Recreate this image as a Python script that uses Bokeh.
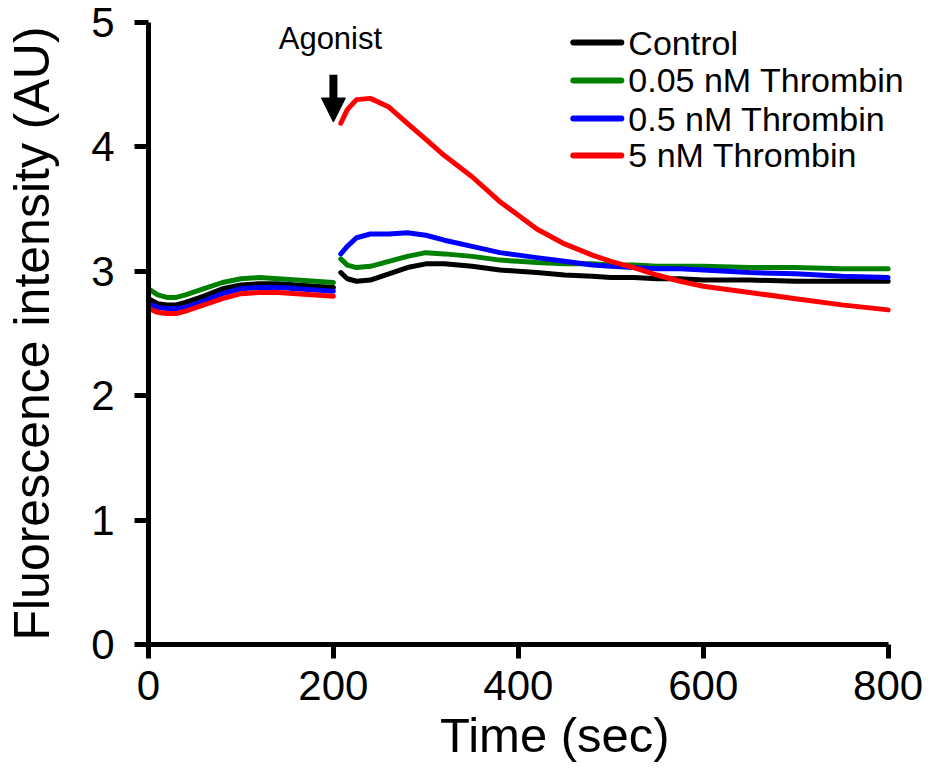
import math
from bokeh.plotting import figure
from bokeh.models import Arrow, NormalHead, Label, FixedTicker
from bokeh.embed import file_html
from bokeh.resources import INLINE

# ---- data ----
time_pre = [0, 10, 20, 30, 40, 60, 80, 100, 120, 140, 160, 180, 200]
time_post = [208, 215, 225, 240, 260, 280, 300, 320, 350, 380, 400, 420, 450,
             480, 500, 525, 550, 575, 600, 650, 700, 750, 800]

control_pre = [2.78, 2.74, 2.73, 2.73, 2.75, 2.80, 2.86, 2.89, 2.90, 2.90, 2.89, 2.88, 2.87]
control_post = [2.99, 2.94, 2.92, 2.93, 2.98, 3.03, 3.06, 3.06, 3.04, 3.01, 3.00, 2.99, 2.97,
                2.96, 2.95, 2.95, 2.94, 2.94, 2.93, 2.93, 2.92, 2.92, 2.92]

thr005_pre = [2.86, 2.81, 2.79, 2.79, 2.81, 2.86, 2.91, 2.94, 2.95, 2.94, 2.93, 2.92, 2.91]
thr005_post = [3.10, 3.05, 3.03, 3.04, 3.08, 3.12, 3.15, 3.14, 3.12, 3.09, 3.08, 3.07, 3.06,
               3.06, 3.05, 3.05, 3.04, 3.04, 3.04, 3.03, 3.03, 3.02, 3.02]

thr05_pre = [2.74, 2.71, 2.70, 2.70, 2.71, 2.76, 2.82, 2.86, 2.87, 2.87, 2.86, 2.85, 2.84]
thr05_post = [3.14, 3.20, 3.27, 3.30, 3.30, 3.31, 3.29, 3.25, 3.20, 3.15, 3.13, 3.11, 3.08,
              3.05, 3.04, 3.03, 3.02, 3.02, 3.01, 2.99, 2.98, 2.96, 2.95]

thr5_pre = [2.70, 2.67, 2.66, 2.66, 2.68, 2.73, 2.78, 2.82, 2.83, 2.83, 2.82, 2.81, 2.80]
thr5_post = [4.19, 4.30, 4.38, 4.39, 4.32, 4.19, 4.06, 3.93, 3.76, 3.56, 3.45, 3.34, 3.22,
             3.13, 3.08, 3.03, 2.97, 2.92, 2.88, 2.83, 2.78, 2.73, 2.69]

series_names = ["Control", "0.05 nM Thrombin", "0.5 nM Thrombin", "5 nM Thrombin"]
series_colors = ["black", "#008000", "#0000FF", "#FF0000"]
series_pre = [control_pre, thr005_pre, thr05_pre, thr5_pre]
series_post = [control_post, thr005_post, thr05_post, thr5_post]

x_ticks = [0, 200, 400, 600, 800]
y_ticks = [0, 1, 2, 3, 4, 5]
x_axis_bounds = (0, 800)
agonist_time = 200
agonist_label = "Agonist"

FONT = "Liberation Sans"

# the frame extends a little past 800 s so the legend text is not clipped;
# the x axis itself is bounded to 0..800
p = figure(width=923, height=770, x_range=(0, 835), y_range=(0, 5),
           output_backend="svg", toolbar_location=None,
           min_border_left=148, min_border_right=3, min_border_top=22,
           min_border_bottom=126)
p.outline_line_color = None
p.grid.visible = False
p.background_fill_color = "white"

renderers = []
for name, color, pre, post in zip(series_names, series_colors, series_pre, series_post):
    xs = time_pre + [math.nan] + time_post
    ys = pre + [math.nan] + post
    r = p.line(xs, ys, line_color=color, line_width=5, line_join="round", line_cap="round")
    renderers.append(r)

for ax in (p.xaxis[0], p.yaxis[0]):
    ax.axis_line_width = 5
    ax.axis_line_color = "black"
    ax.major_tick_line_width = 5
    ax.major_tick_line_color = "black"
    ax.major_tick_out = 14
    ax.major_tick_in = 0
    ax.minor_tick_line_color = None
    ax.major_label_text_font = FONT
    ax.major_label_text_font_size = "42px"
    ax.major_label_text_color = "black"
    ax.axis_label_text_font = FONT
    ax.axis_label_text_font_style = "normal"
    ax.axis_label_text_color = "black"

p.xaxis.ticker = FixedTicker(ticks=x_ticks)
p.yaxis.ticker = FixedTicker(ticks=y_ticks)
p.xaxis.bounds = x_axis_bounds
# leading no-break spaces nudge the centred title to the right, as in the reference
p.xaxis.axis_label = "\u00a0\u00a0\u00a0Time (sec)"
p.yaxis.axis_label = "Fluorescence intensity (AU)"
p.xaxis.axis_label_text_font_size = "49px"
p.yaxis.axis_label_text_font_size = "50px"
p.xaxis.major_label_standoff = 12
p.xaxis.axis_label_standoff = 5
p.yaxis.major_label_standoff = 20
p.yaxis.axis_label_standoff = 28

# legend (key lines + labels), placed in the upper right of the plot
legend_key_x0, legend_key_x1 = 459.5, 511.4   # time units
legend_text_x = 519.0
legend_row_y = [4.839, 4.534, 4.228, 3.931]   # AU units
for name, color, ry in zip(series_names, series_colors, legend_row_y):
    p.add_layout(Arrow(start=None, end=None, x_start=legend_key_x0, y_start=ry,
                       x_end=legend_key_x1, y_end=ry, line_color=color,
                       line_width=6, line_cap="round"))
    p.add_layout(Label(x=legend_text_x, y=ry, text=name, text_align="left",
                       text_baseline="middle", text_font=FONT,
                       text_font_size="34px", text_color="black"))

p.add_layout(Arrow(end=NormalHead(size=24, fill_color="black", line_color="black"),
                   x_start=agonist_time, y_start=4.58, x_end=agonist_time, y_end=4.20,
                   line_width=8, line_color="black"))
p.add_layout(Label(x=agonist_time, y=4.875, text=agonist_label, x_offset=-3,
                   text_align="center", text_baseline="middle",
                   text_font=FONT, text_font_size="31px", text_color="black"))

open("out.html", "w").write(file_html(p, INLINE))
